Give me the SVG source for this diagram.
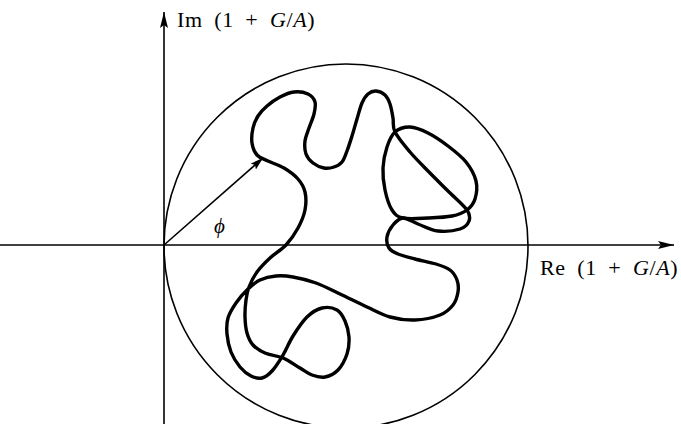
<svg xmlns="http://www.w3.org/2000/svg" width="681" height="424" viewBox="0 0 681 424">
<style>
.axis{fill:none;stroke:#000;stroke-width:1.6}
.circ{fill:none;stroke:#000;stroke-width:1.6}
.curve{fill:none;stroke:#000;stroke-width:3.4;stroke-linejoin:round}
.lbl{font-family:"Liberation Serif","Times New Roman",serif;font-size:22px;fill:#000;word-spacing:5.5px;letter-spacing:0.6px}
.it{font-style:italic}
</style>
<defs>
<marker id="ah" viewBox="0 0 16 8" refX="16" refY="4" markerWidth="16" markerHeight="8" markerUnits="userSpaceOnUse" orient="auto">
<path d="M0,0 L16,4 L0,8 L3,4 Z" fill="#000"/>
</marker>
<marker id="ah2" viewBox="0 0 13 8" refX="13" refY="4" markerWidth="13" markerHeight="8" markerUnits="userSpaceOnUse" orient="auto">
<path d="M0,0 L13,4 L0,8 L2.5,4 Z" fill="#000"/>
</marker>
</defs>
<g id="connectors">
<line id="im-axis" class="axis" x1="164" y1="424" x2="164" y2="12" marker-end="url(#ah)"/>
<line id="re-axis" class="axis" x1="0" y1="245" x2="674" y2="245" marker-end="url(#ah)"/>
<line id="phasor" class="axis" x1="164" y1="245" x2="263" y2="158" marker-end="url(#ah2)"/>
</g>
<g id="unit-circle">
<circle class="circ" cx="346" cy="246" r="182"/>
</g>
<g id="locus">
<path class="curve" d="M253,128 C254,123.5 255.67,119.67 258,116 S263.33,109.17 267,106 S275.5,99.33 280,97 S289.33,92.5 294,92 S304.5,92.33 308,94 S314,98.67 315,102 S315,109.67 314,114 S310.5,123.5 309,128 S305.5,136.67 305,141 S304.67,150.33 306,154 S310,160.67 313,163 S320.5,167.33 324,168 S331,168 334,167 S339.83,164.67 342,162 S345.33,155.33 347,151 S350.33,141.33 352,136 S355.33,124.5 357,119 S360.17,107.17 362,103 S365.67,96 368,94 S373.17,90.83 376,91 S382.67,92.83 385,95 S388.67,100.17 390,104 S392.17,113.33 393,118 S392.17,126.33 395,132 S404.5,145.5 410,152 S421.67,164.5 428,171 S441.5,184.5 448,191 S463.5,205 467,210 S470.17,217.83 469,221 S465.17,227.33 460,229 S445,231.83 438,231 S423.83,226.17 418,224 S407.17,217.83 403,218 S395.67,221.83 393,225 S387.67,233.17 387,237 S387.17,245.17 389,248 S393.67,252.17 398,254 S408.67,257.33 415,259 S430.17,262.17 436,264 S446.5,267.33 450,270 S455.67,276.33 457,280 S458.67,287.83 458,292 S456,301.17 453,305 S446.33,312.5 440,315 S423.33,319.67 415,320 S398,319.17 390,317 S375.33,310.83 367,307 S348.5,298 340,294 S323.83,285.83 316,283 S299.67,278.17 293,277 S281.5,275.5 276,276 S264.67,277.83 260,280 S252,285.17 248,289 S239.33,298.17 236,303 S229.5,312.83 228,318 S226.5,328.33 227,334 S228.83,346.5 231,352 S236.67,363 240,367 S247.33,374.17 251,376 S258.5,378.83 262,378 S268.5,374.83 272,371 S279.5,360.83 283,355 S289,342.33 293,336 S302.17,321.67 307,317 S317,309.17 322,308 S333.17,307.83 337,310 S343,316.5 345,321 S348.67,331.5 349,337 S348.83,348.5 347,354 S341.67,366.17 338,370 S329.33,376.17 325,377 S316.17,376.5 312,375 S304.83,370.83 300,368 S288.83,360.5 283,358 S270,355.17 265,353 S256,348.33 253,345 S248.33,337.67 247,333 S245.17,322.5 245,317 S245.33,305 246,300 S247.17,291.67 249,287 S253.5,276.83 257,272 S265.17,262.5 270,258 S281.33,250 286,245 S294.83,233.83 298,228 S303.83,216 305,210 S306.17,197.17 305,192 S301.5,183 298,179 S289,171 284,168 S272.5,163.17 268,161 S259.67,158 257,155 S252.67,147.5 252,143 S252,132.5 253,128 Z"/>
<path class="curve" d="M395,132 C398.83,128.67 404.5,126.83 410,127 S421.67,129.83 428,133 S441.67,141.17 448,146 S461.33,156.17 466,162 S474.5,174.83 476,181 S476.5,194.17 475,199 S470.83,207.17 467,210 S458.5,214.67 452,216 S436.17,217.67 428,218 S409,219.33 403,218 S395,214.67 392,210 S386.5,197 385,190 S382.67,175.17 383,168 S385,153 387,147 S391.17,135.33 395,132 Z"/>
</g>
<g id="im-label">
<text class="lbl" x="177" y="27">Im (1 + <tspan class="it">G</tspan>/<tspan class="it">A</tspan>)</text>
</g>
<g id="re-label">
<text class="lbl" x="540" y="275">Re (1 + <tspan class="it">G</tspan>/<tspan class="it">A</tspan>)</text>
</g>
<g id="phi-label">
<text class="lbl it" x="214" y="233" style="font-size:21px">ϕ</text>
</g>
</svg>
